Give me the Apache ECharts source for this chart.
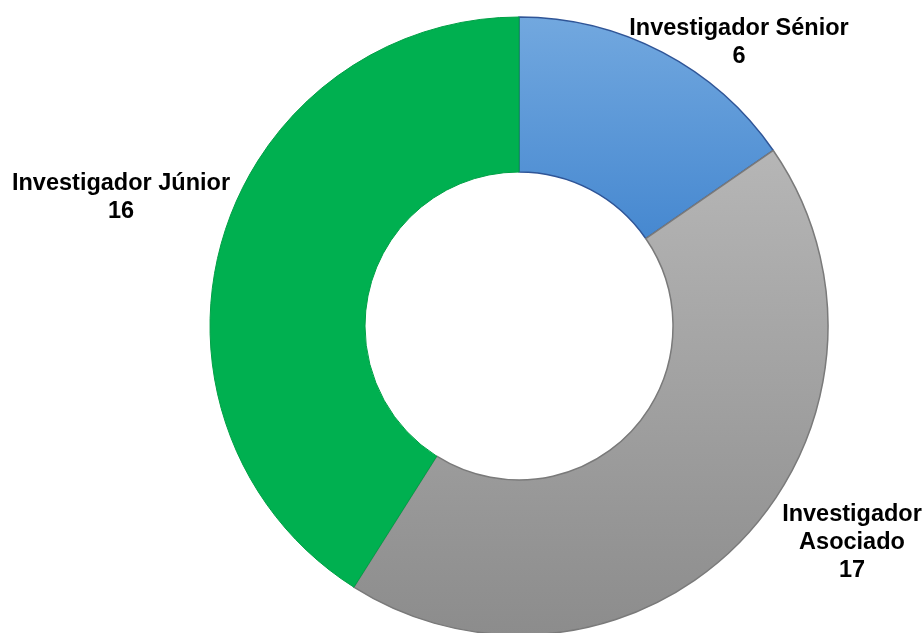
<!DOCTYPE html>
<html>
<head>
<meta charset="utf-8">
<script src="https://cdn.jsdelivr.net/npm/echarts@6/dist/echarts.min.js"></script>
<style>html,body{margin:0;padding:0;background:#fff}#c{width:924px;height:633px}</style>
</head>
<body>
<div id="c"></div>
<script>
var categories = ['Investigador Sénior', 'Investigador\nAsociado', 'Investigador Júnior'];
var values = [6, 17, 16];

var styles = [
  {color: {type:'linear',x:0,y:0,x2:0,y2:1,colorStops:[{offset:0,color:'#72a8df'},{offset:1,color:'#4688d0'}]}, borderColor:'#2f5597', borderWidth:1.5},
  {color: {type:'linear',x:0,y:0,x2:0,y2:1,colorStops:[{offset:0,color:'#b6b6b6'},{offset:1,color:'#8c8c8c'}]}, borderColor:'#7a7a7a', borderWidth:1.5},
  {color: '#00b050', borderColor:'#00a046', borderWidth:1}
];
var labelPos = [[739, 43], [852, 543], [121, 198]];

var chart = echarts.init(document.getElementById('c'), null, {renderer:'canvas'});
chart.setOption({
  animation: false,
  series: [{
    type: 'pie',
    center: [519, 326],
    radius: [154, 309],
    startAngle: 90,
    clockwise: true,
    avoidLabelOverlap: false,
    label: {
      show: true,
      position: 'outside',
      formatter: '{b}\n{c}',
      fontFamily: 'Liberation Sans, Arial, sans-serif',
      fontWeight: 'bold',
      fontSize: 23.5,
      lineHeight: 28,
      color: '#000',
      align: 'center'
    },
    labelLine: {show: false},
    labelLayout: function (p) {
      var pos = labelPos[p.dataIndex];
      return {x: pos[0], y: pos[1], align: 'center', verticalAlign: 'middle'};
    },
    emphasis: {disabled: true},
    data: categories.map(function (n, i) {
      return {name: n, value: values[i], itemStyle: styles[i]};
    })
  }]
});
</script>
</body>
</html>
